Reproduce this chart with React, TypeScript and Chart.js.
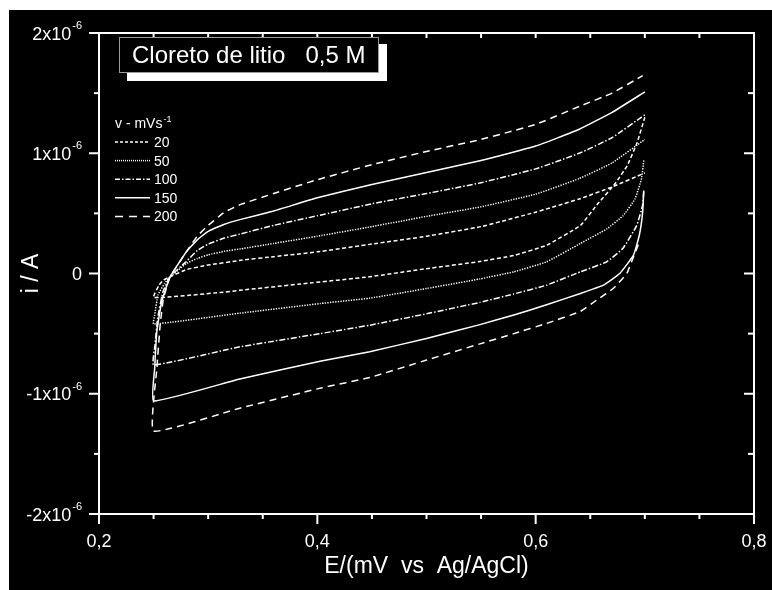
import React, { useEffect, useRef } from "react";
import { Chart, registerables } from "chart.js";

Chart.register(...registerables);

// ---------- data (current in units of 10^-6 A, potential in V) ----------
const scanRates = ["20", "50", "100", "150", "200"];

const e20 = [0.700, 0.693, 0.684, 0.673, 0.656, 0.641, 0.610, 0.580, 0.549, 0.500, 0.448, 0.389, 0.329, 0.311, 0.250,
  0.255, 0.259, 0.265,
  0.28, 0.30, 0.33, 0.36, 0.40, 0.45, 0.50, 0.55, 0.60, 0.64, 0.67, 0.70];
const i20 = [1.30, 1.09, 0.90, 0.75, 0.57, 0.40, 0.235, 0.15, 0.10, 0.04, -0.027, -0.083, -0.14, -0.158, -0.20,
  -0.097, -0.055, -0.028,
  0.033, 0.07, 0.11, 0.14, 0.18, 0.245, 0.31, 0.39, 0.51, 0.62, 0.72, 0.836];

const e50 = [0.699, 0.697, 0.691, 0.680, 0.665, 0.641, 0.610, 0.580, 0.549, 0.500, 0.448, 0.4025, 0.329, 0.250,
  0.251, 0.254, 0.260, 0.265,
  0.28, 0.29, 0.30, 0.315, 0.33, 0.36, 0.40, 0.45, 0.50, 0.55, 0.60, 0.64, 0.67, 0.70];
const i50 = [0.94, 0.79, 0.62, 0.48, 0.37, 0.25, 0.097, 0.014, -0.045, -0.125, -0.205, -0.25, -0.33, -0.42,
  -0.346, -0.18, -0.083, -0.028,
  0.083, 0.125, 0.155, 0.185, 0.205, 0.25, 0.31, 0.39, 0.475, 0.555, 0.66, 0.79, 0.92, 1.115];

const e100 = [0.699, 0.698, 0.6926, 0.680, 0.665, 0.641, 0.610, 0.580, 0.549, 0.500, 0.448, 0.4025, 0.329, 0.250,
  0.2513, 0.2537, 0.2586, 0.265,
  0.28, 0.29, 0.30, 0.315, 0.33, 0.36, 0.40, 0.45, 0.50, 0.55, 0.60, 0.64, 0.67, 0.70];
const i100 = [0.68, 0.57, 0.40, 0.21, 0.097, 0.014, -0.097, -0.17, -0.24, -0.335, -0.43, -0.50, -0.61, -0.76,
  -0.595, -0.373, -0.152, -0.028,
  0.10, 0.19, 0.245, 0.295, 0.33, 0.40, 0.48, 0.58, 0.665, 0.755, 0.87, 1.00, 1.13, 1.32];

const e150 = [0.699, 0.698, 0.695, 0.6895, 0.677, 0.662, 0.641, 0.610, 0.580, 0.549, 0.500, 0.448, 0.4025, 0.329, 0.250,
  0.251, 0.253, 0.2574, 0.265,
  0.28, 0.29, 0.30, 0.315, 0.33, 0.36, 0.40, 0.45, 0.50, 0.55, 0.60, 0.64, 0.67, 0.70];
const i150 = [0.69, 0.51, 0.32, 0.15, 0.0, -0.097, -0.166, -0.26, -0.345, -0.425, -0.54, -0.65, -0.73, -0.877, -1.06,
  -0.79, -0.48, -0.235, -0.03,
  0.18, 0.28, 0.35, 0.41, 0.45, 0.52, 0.63, 0.74, 0.84, 0.94, 1.06, 1.20, 1.34, 1.51];

const e200 = [0.694, 0.689, 0.6835, 0.671, 0.656, 0.641, 0.610, 0.580, 0.549, 0.500, 0.448, 0.4025, 0.329, 0.250,
  0.253, 0.256, 0.259, 0.265,
  0.28, 0.29, 0.30, 0.315, 0.33, 0.36, 0.40, 0.45, 0.50, 0.55, 0.60, 0.64, 0.67, 0.698];
const i200 = [0.24, 0.125, 0.0, -0.125, -0.22, -0.315, -0.415, -0.50, -0.585, -0.72, -0.865, -0.954, -1.12, -1.31,
  -0.79, -0.43, -0.21, -0.03,
  0.18, 0.31, 0.40, 0.51, 0.575, 0.665, 0.78, 0.905, 1.015, 1.115, 1.24, 1.39, 1.50, 1.645];

const seriesE = [e20, e50, e100, e150, e200];
const seriesI = [i20, i50, i100, i150, i200];

// ---------- axis ticks ----------
const xMajorTicks = [0.2, 0.4, 0.6, 0.8];
const xTickLabels = ["0,2", "0,4", "0,6", "0,8"];
const xMinorTicks = [0.25, 0.3, 0.35, 0.45, 0.5, 0.55, 0.65, 0.7, 0.75];
const yMajorTicks = [2, 1, 0, -1, -2];
const yTickMain = ["2x10", "1x10", "0", "-1x10", "-2x10"];
const yTickSup = ["-6", "-6", "", "-6", "-6"];
const yMinorTicks = [1.5, 0.5, -0.5, -1.5];

const xTitle = "E/(mV  vs  Ag/AgCl)";
const yTitle = "i / A";
const boxTitle = "Cloreto de litio   0,5 M";
const legendHeader = "v - mVs";
const legendHeaderSup = "-1";

// ---------- styles ----------
const dashes: number[][] = [[4, 2.5], [1.3, 1.3], [6, 2, 1.5, 2], [], [7, 5]];
const legendDashes: number[][] = [[3, 2], [1, 1], [5, 2, 1.5, 2], [], [8, 6]];
const FONT = "'Liberation Sans', Arial, sans-serif";

const decor = {
  id: "decor",
  afterDraw(chart: any) {
    const ctx = chart.ctx as CanvasRenderingContext2D;
    const { left, right, top, bottom } = chart.chartArea;
    const xs = chart.scales.x;
    const ys = chart.scales.y;
    ctx.save();
    ctx.strokeStyle = "#fff";
    ctx.fillStyle = "#fff";
    ctx.setLineDash([]);
    ctx.lineWidth = 2;
    ctx.lineCap = "butt";
    ctx.strokeRect(left, top, right - left, bottom - top);
    const line = (x1: number, y1: number, x2: number, y2: number) => {
      ctx.beginPath();
      ctx.moveTo(x1, y1);
      ctx.lineTo(x2, y2);
      ctx.stroke();
    };
    xMajorTicks.forEach((v) => {
      const px = xs.getPixelForValue(v);
      line(px, bottom, px, bottom + 10);
      line(px, top, px, top + 5);
    });
    xMinorTicks.forEach((v) => {
      const px = xs.getPixelForValue(v);
      line(px, bottom, px, bottom + 5);
      line(px, top, px, top + 5);
    });
    yMajorTicks.forEach((v) => {
      const py = ys.getPixelForValue(v);
      line(left - 10, py, left, py);
      line(right - 10, py, right, py);
    });
    yMinorTicks.forEach((v) => {
      const py = ys.getPixelForValue(v);
      line(left - 5, py, left, py);
      line(right - 6, py, right, py);
    });
    ctx.font = `18px ${FONT}`;
    ctx.textAlign = "center";
    ctx.textBaseline = "alphabetic";
    xMajorTicks.forEach((v, k) => {
      ctx.fillText(xTickLabels[k], xs.getPixelForValue(v), bottom + 33);
    });
    yMajorTicks.forEach((v, k) => {
      const py = ys.getPixelForValue(v);
      const xr = left - 17;
      ctx.textAlign = "left";
      ctx.font = `11px ${FONT}`;
      const sw = yTickSup[k] ? ctx.measureText(yTickSup[k]).width : 0;
      ctx.font = `18px ${FONT}`;
      const mw = ctx.measureText(yTickMain[k]).width;
      const x0 = xr - sw - mw - (yTickSup[k] ? 1 : 0);
      ctx.fillText(yTickMain[k], x0, py + 6.5);
      if (yTickSup[k]) {
        ctx.font = `11px ${FONT}`;
        ctx.fillText(yTickSup[k], x0 + mw + 1, py - 4);
      }
    });
    ctx.font = `23px ${FONT}`;
    ctx.textAlign = "center";
    ctx.fillText(xTitle, (left + right) / 2, bottom + 59);
    ctx.save();
    ctx.translate(29, (top + bottom) / 2);
    ctx.rotate(-Math.PI / 2);
    ctx.fillText(yTitle, 0, 0);
    ctx.restore();
    // title box with shadow
    ctx.fillStyle = "#fff";
    ctx.fillRect(118, 34, 260, 37);
    ctx.fillStyle = "#000";
    ctx.fillRect(110, 27, 260, 36);
    ctx.strokeStyle = "#9a9a9a";
    ctx.lineWidth = 1;
    ctx.strokeRect(110.5, 27.5, 259, 35);
    ctx.fillStyle = "#fff";
    ctx.font = `24px ${FONT}`;
    ctx.textAlign = "left";
    ctx.fillText(boxTitle, 123, 53);
    // legend
    ctx.font = `14px ${FONT}`;
    ctx.fillText(legendHeader, 106, 118);
    const hw = ctx.measureText(legendHeader).width;
    ctx.font = `9px ${FONT}`;
    ctx.fillText(legendHeaderSup, 106 + hw + 1, 112);
    ctx.font = `14px ${FONT}`;
    ctx.strokeStyle = "#fff";
    ctx.lineWidth = 1.5;
    scanRates.forEach((r, k) => {
      const cy = 132 + k * 18.6;
      ctx.setLineDash(legendDashes[k]);
      line(106, cy, 141, cy);
      ctx.setLineDash([]);
      ctx.fillText(r, 145, cy + 5);
    });
    ctx.restore();
  },
};

export default function App() {
  const ref = useRef<HTMLCanvasElement | null>(null);
  useEffect(() => {
    if (!ref.current) return;
    const chart = new Chart(ref.current, {
      type: "scatter",
      data: {
        datasets: scanRates.map((r, k) => ({
          label: r,
          data: seriesE[k].map((e, j) => ({ x: e, y: seriesI[k][j] })),
          showLine: true,
          borderColor: "#ffffff",
          borderWidth: 1.5,
          borderDash: dashes[k],
          pointRadius: 0,
          fill: false,
          tension: 0.12,
        })),
      },
      options: {
        responsive: false,
        animation: false,
        layout: { padding: { left: 90, right: 18, top: 23, bottom: 76 } },
        plugins: { legend: { display: false }, tooltip: { enabled: false }, title: { display: false } },
        scales: {
          x: { type: "linear", min: 0.2, max: 0.8, display: false },
          y: { type: "linear", min: -2, max: 2, display: false },
        },
      },
      plugins: [decor],
    });
    return () => chart.destroy();
  }, []);
  return (
    <div style={{ position: "absolute", left: 9, top: 10, width: 763, height: 580, background: "#000" }}>
      <canvas ref={ref} width={763} height={580} style={{ width: 763, height: 580, display: "block" }} />
    </div>
  );
}
